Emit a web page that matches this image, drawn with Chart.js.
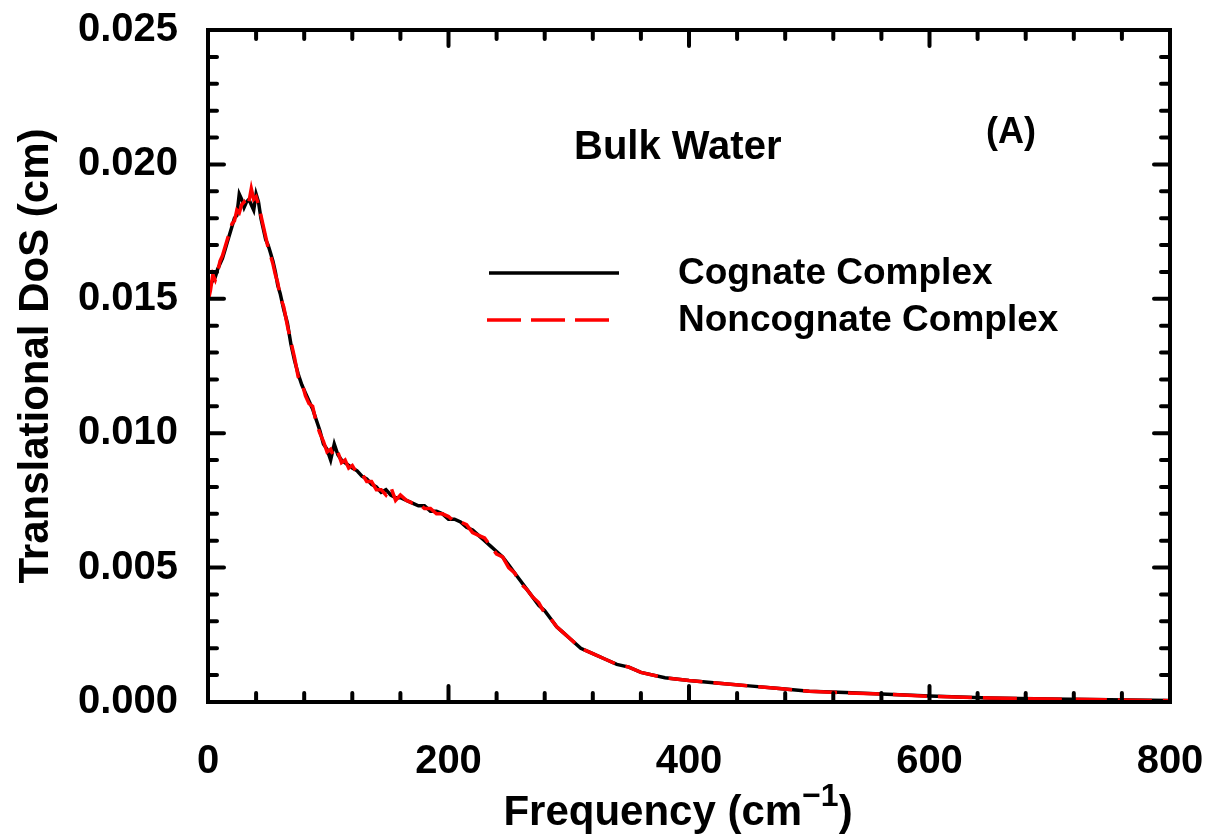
<!DOCTYPE html>
<html>
<head>
<meta charset="utf-8">
<title>Translational DoS - Bulk Water</title>
<script src="https://cdn.jsdelivr.net/npm/chart.js@4.4.1/dist/chart.umd.min.js"></script>
<style>
  html, body { margin: 0; padding: 0; background: #fff; }
  #wrap { width: 1209px; height: 840px; }
</style>
</head>
<body>
<div id="wrap"><canvas id="dos" width="1209" height="840"></canvas></div>
<script>
// frequency grid (cm^-1)
const freq = [0,2,4,6,8,10,12,14,16,18,20,22,24,26,28,30,32,34,36,38,40,42,44,46,48,50,52,54,56,58,60,
  63,66,69,72,75,78,81,84,87,90,93,96,99,102,105,108,111,114,117,120,124,128,132,136,140,144,148,152,156,160,
  165,170,175,180,185,190,195,200,205,210,215,220,225,230,235,240,245,250,255,260,265,270,275,280,285,290,295,300,
  310,320,330,340,350,360,380,400,425,450,475,500,530,560,600,650,700,750,800];

// translational density of states (cm)
const cognate = [0.0150,0.0155,0.0157,0.0158,0.0161,0.0163,0.0165,0.0168,0.0171,0.0174,0.0177,0.0180,0.0181,0.0189,0.0187,0.0184,0.0186,0.0187,0.0185,0.0183,0.0189,0.0186,0.0180,0.0176,0.0172,0.0170,0.0167,0.0164,0.0160,0.0155,0.0152,
  0.0146,0.0141,0.0133,0.0127,0.0122,0.0118,0.0115,0.0112,0.0109,0.0105,0.0101,0.0096,0.0094,0.0090,0.0096,0.0092,0.0090,0.0089,0.0088,0.0087,0.0086,0.0084,0.0083,0.0081,0.0080,0.0078,0.0079,0.0077,0.0076,0.0076,
  0.0075,0.0074,0.0073,0.0073,0.0071,0.0071,0.0070,0.0068,0.0068,0.0067,0.0065,0.0064,0.0062,0.0060,0.0058,0.0056,0.0054,0.0051,0.0048,0.0045,0.0042,0.0039,0.0036,0.0034,0.0031,0.0028,0.0026,0.0024,
  0.0020,0.0018,0.0016,0.0014,0.0013,0.0011,0.0009,0.0008,0.0007,0.0006,0.0005,0.0004,0.00035,0.0003,0.00022,0.00015,0.00011,0.00008,0.00006];

const noncognate = [0.0149,0.0153,0.0159,0.0157,0.0160,0.0164,0.0166,0.0169,0.0172,0.0175,0.0178,0.0179,0.0183,0.0182,0.0185,0.0186,0.0184,0.0186,0.0191,0.0187,0.0188,0.0185,0.0181,0.0177,0.0173,0.0169,0.0166,0.0163,0.0159,0.0156,0.0151,
  0.0147,0.0140,0.0134,0.0128,0.0121,0.0119,0.0114,0.0111,0.0110,0.0104,0.0100,0.0097,0.0093,0.0094,0.0091,0.0093,0.0089,0.0090,0.0087,0.0088,0.0085,0.0085,0.0082,0.0082,0.0079,0.0079,0.0077,0.0080,0.0075,0.0077,
  0.0075,0.0074,0.0074,0.0072,0.0072,0.0070,0.0070,0.0069,0.0067,0.0067,0.0066,0.0063,0.0062,0.0061,0.0058,0.0055,0.0054,0.0050,0.0048,0.0044,0.0042,0.0039,0.0037,0.0033,0.0031,0.0028,0.0026,0.0024,
  0.0020,0.0018,0.0016,0.0014,0.0013,0.0011,0.0009,0.0008,0.0007,0.0006,0.0005,0.0004,0.00034,0.0003,0.00021,0.00015,0.00011,0.00008,0.00005];

const seriesNames = ["Cognate Complex", "Noncognate Complex"];
const xTicks = [0, 200, 400, 600, 800];
const yTicks = [0, 0.005, 0.010, 0.015, 0.020, 0.025];

const FONT = "'Liberation Sans', Arial, sans-serif";

function points(ys) {
  return freq.map((f, i) => ({ x: f, y: ys[i] }));
}

// box frame, inward ticks on all four sides, legend and annotations
const framePlugin = {
  id: "frame",
  afterDraw(chart) {
    const ctx = chart.ctx;
    const a = chart.chartArea;
    const xs = chart.scales.x, ys = chart.scales.y;
    ctx.save();
    ctx.strokeStyle = "#000";
    ctx.lineWidth = 4;
    ctx.lineCap = "round";
    ctx.strokeRect(a.left, a.top, a.right - a.left, a.bottom - a.top);

    for (let v = 40; v < 800; v += 40) {
      const px = xs.getPixelForValue(v);
      const len = v % 200 === 0 ? 16 : 9;
      ctx.beginPath();
      ctx.moveTo(px, a.bottom); ctx.lineTo(px, a.bottom - len);
      ctx.moveTo(px, a.top); ctx.lineTo(px, a.top + len);
      ctx.stroke();
    }
    for (let k = 1; k < 25; k++) {
      const py = ys.getPixelForValue(k * 0.001);
      const len = k % 5 === 0 ? 16 : 9;
      ctx.beginPath();
      ctx.moveTo(a.left, py); ctx.lineTo(a.left + len, py);
      ctx.moveTo(a.right, py); ctx.lineTo(a.right - len, py);
      ctx.stroke();
    }

    // legend
    ctx.lineCap = "butt";
    ctx.lineWidth = 3.5;
    ctx.strokeStyle = "#000";
    ctx.beginPath(); ctx.moveTo(489, 273); ctx.lineTo(619, 273); ctx.stroke();
    ctx.strokeStyle = "#ff0000";
    ctx.setLineDash([34, 10]);
    ctx.beginPath(); ctx.moveTo(487, 320); ctx.lineTo(609, 320); ctx.stroke();
    ctx.setLineDash([]);

    ctx.fillStyle = "#000";
    ctx.textBaseline = "middle";
    ctx.textAlign = "left";
    ctx.font = "bold 37px " + FONT;
    ctx.fillText(seriesNames[0], 678, 274);
    ctx.fillText(seriesNames[1], 678, 321);

    ctx.font = "bold 40px " + FONT;
    ctx.fillText("Bulk Water", 574, 148);
    ctx.font = "bold 36px " + FONT;
    ctx.fillText("(A)", 986, 133);

    // x axis title with superscript
    ctx.textBaseline = "alphabetic";
    const base = "Frequency (cm";
    ctx.font = "bold 42px " + FONT;
    const w1 = ctx.measureText(base).width;
    ctx.font = "bold 32px " + FONT;
    const w2 = ctx.measureText("\u22121").width;
    ctx.font = "bold 42px " + FONT;
    const w3 = ctx.measureText(")").width;
    let x0 = 678 - (w1 + w2 + w3) / 2;
    ctx.fillText(base, x0, 825);
    ctx.font = "bold 32px " + FONT;
    ctx.fillText("\u22121", x0 + w1, 806);
    ctx.font = "bold 42px " + FONT;
    ctx.fillText(")", x0 + w1 + w2, 825);

    // y axis title
    ctx.translate(36, 356);
    ctx.rotate(-Math.PI / 2);
    ctx.textAlign = "center";
    ctx.textBaseline = "middle";
    ctx.font = "bold 42px " + FONT;
    ctx.fillText("Translational DoS (cm)", 0, 0);
    ctx.restore();
  }
};

new Chart(document.getElementById("dos"), {
  type: "line",
  data: {
    datasets: [
      {
        label: seriesNames[0],
        data: points(cognate),
        borderColor: "#000000",
        borderWidth: 3.5,
        pointRadius: 0,
        tension: 0,
        order: 1
      },
      {
        label: seriesNames[1],
        data: points(noncognate),
        borderColor: "#ff0000",
        borderWidth: 3.5,
        borderDash: [34, 11],
        pointRadius: 0,
        tension: 0,
        order: 0
      }
    ]
  },
  options: {
    responsive: false,
    animation: false,
    events: [],
    layout: { padding: { top: 30, right: 39, left: 0, bottom: 0 } },
    plugins: { legend: { display: false }, tooltip: { enabled: false } },
    scales: {
      x: {
        type: "linear",
        min: 0,
        max: 800,
        afterBuildTicks: (s) => { s.ticks = xTicks.map(v => ({ value: v })); },
        afterFit: (s) => {
          s.height = 138;
          s.paddingLeft = 0; s.paddingRight = 0;
        },
        grid: { display: false },
        border: { display: false },
        ticks: {
          color: "#000",
          padding: 28,
          font: { family: FONT, size: 40, weight: "bold" }
        }
      },
      y: {
        type: "linear",
        min: 0,
        max: 0.025,
        afterBuildTicks: (s) => { s.ticks = yTicks.map(v => ({ value: v })); },
        afterFit: (s) => {
          s.width = 208;
          s.paddingTop = 0; s.paddingBottom = 0;
        },
        grid: { display: false },
        border: { display: false },
        ticks: {
          color: "#000",
          padding: 22,
          font: { family: FONT, size: 40, weight: "bold" },
          callback: (v) => v.toFixed(3)
        }
      }
    }
  },
  plugins: [framePlugin]
});
</script>
</body>
</html>
